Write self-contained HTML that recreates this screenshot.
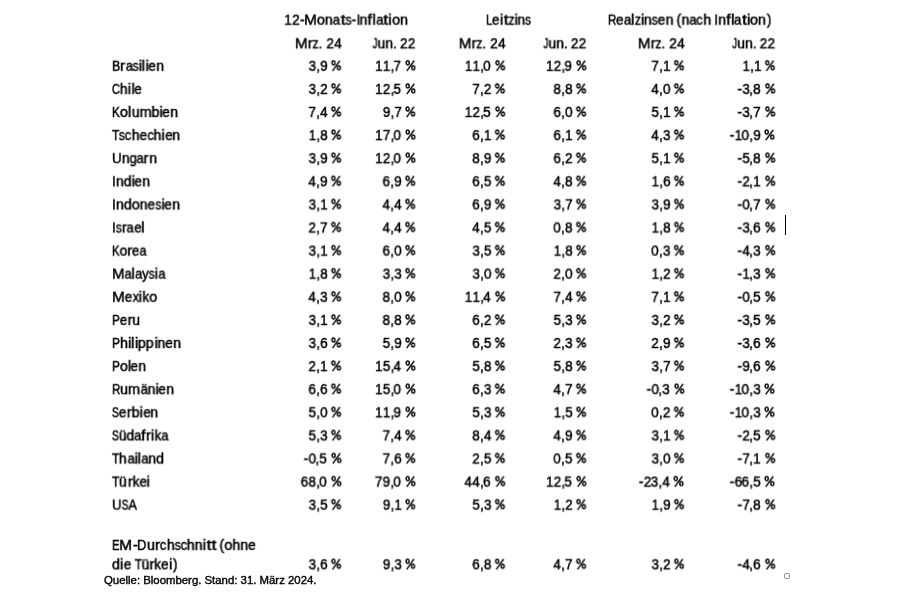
<!DOCTYPE html>
<html><head><meta charset="utf-8"><style>
html,body{margin:0;padding:0;background:#fff}
body{width:900px;height:604px;position:relative;overflow:hidden}
.t{will-change:transform;transform-origin:0 0;position:absolute;font-family:"Liberation Sans",sans-serif;line-height:20px;color:#000;white-space:nowrap}
.n{font-size:14.2px;-webkit-text-stroke:0.45px #000}
.w{font-size:14.2px;-webkit-text-stroke:0.45px #000}
.t s{text-decoration:none;display:inline-block;transform-origin:0 0}
.g0{transform:scaleX(0.9819);margin-right:-0.143px}
.g1{transform:scaleX(0.9819);margin-right:-0.143px}
.g2{transform:scaleX(0.9906);margin-right:-0.045px}
.g3{transform:scaleX(1.1059);margin-right:1.252px}
.g4{transform:scaleX(1.0217);margin-right:0.171px}
.g5{transform:scaleX(1.0179);margin-right:0.141px}
.g6{transform:scaleX(0.9280);margin-right:-0.569px}
.g7{transform:scaleX(1.2990);margin-right:1.180px}
.g8{transform:scaleX(0.8428);margin-right:-1.116px}
.g9{transform:scaleX(0.9771);margin-right:-0.090px}
.g10{transform:scaleX(1.1835);margin-right:0.724px}
.g11{transform:scaleX(1.1130);margin-right:0.356px}
.g12{transform:scaleX(1.1130);margin-right:0.356px}
.g13{transform:scaleX(0.8145);margin-right:-1.465px}
.g14{transform:scaleX(0.9639);margin-right:-0.285px}
.g15{transform:scaleX(0.8512);margin-right:-1.056px}
.g16{transform:scaleX(0.8101);margin-right:-1.947px}
.g17{transform:scaleX(0.8767);margin-right:-0.486px}
.g18{transform:scaleX(0.9811);margin-right:-0.089px}
.g19{transform:scaleX(0.9112);margin-right:-0.630px}
.g20{transform:scaleX(1.0179);margin-right:0.141px}
.g21{transform:scaleX(0.9811);margin-right:-0.089px}
.g22{transform:scaleX(1.1280);margin-right:0.605px}
.g23{transform:scaleX(0.9790);margin-right:-0.083px}
.g24{transform:scaleX(0.9819);margin-right:-0.143px}
.g25{transform:scaleX(0.6871);margin-right:-2.222px}
.g26{transform:scaleX(1.0179);margin-right:0.141px}
.g27{transform:scaleX(0.8787);margin-right:-1.149px}
.g28{transform:scaleX(0.9819);margin-right:-0.143px}
.g29{transform:scaleX(0.9676);margin-right:-0.128px}
.g30{transform:scaleX(0.9819);margin-right:-0.143px}
.g31{transform:scaleX(0.8662);margin-right:-1.689px}
.g32{transform:scaleX(0.9819);margin-right:-0.143px}
.g33{transform:scaleX(0.9819);margin-right:-0.143px}
.g34{transform:scaleX(0.7955);margin-right:-2.097px}
.g35{transform:scaleX(0.9819);margin-right:-0.143px}
.g36{transform:scaleX(0.9819);margin-right:-0.143px}
.g37{transform:scaleX(0.8393);margin-right:-1.522px}
.g38{transform:scaleX(1.0333);margin-right:0.393px}
.g39{transform:scaleX(1.0179);margin-right:0.141px}
.g40{transform:scaleX(0.9819);margin-right:-0.143px}
.g41{transform:scaleX(0.8596);margin-right:-1.218px}
.g42{transform:scaleX(0.9573);margin-right:-0.438px}
.g43{transform:scaleX(0.9119);margin-right:-0.696px}
.g44{transform:scaleX(1.0179);margin-right:0.141px}
.g45{transform:scaleX(0.9754);margin-right:-0.175px}
.g46{transform:scaleX(0.9333);margin-right:-0.473px}
.g47{transform:scaleX(0.9796);margin-right:-0.145px}
.g48{transform:scaleX(0.8345);margin-right:-1.567px}
.g49{transform:scaleX(1.0179);margin-right:0.141px}
.g50{transform:scaleX(0.9280);margin-right:-0.569px}
.g51{transform:scaleX(0.7422);margin-right:-2.441px}
.g52{transform:scaleX(1.0179);margin-right:0.141px}
.g53{transform:scaleX(0.9347);margin-right:-0.619px}
.g54{transform:scaleX(0.7888);margin-right:-2.001px}
.g55{transform:scaleX(0.9179);margin-right:-0.842px}
.pc{width:10.937px;position:relative;color:transparent;-webkit-text-stroke:0 transparent}
.ps{position:absolute;left:0;top:4.1px;overflow:visible}
.foot{will-change:transform;position:absolute;left:104px;top:572.95px;font-family:"Liberation Sans",sans-serif;font-size:11.38px;line-height:14px;color:#000;white-space:nowrap;-webkit-text-stroke:0.4px #000}
.cur{position:absolute;left:785px;top:215px;width:1px;height:20px;background:#000}
.sq{position:absolute;left:784px;top:573.3px;width:6px;height:6px;border:1px solid #8a8a8a;border-radius:1.5px;box-sizing:border-box}
</style></head><body>
<svg width="0" height="0" style="position:absolute"><defs><g id="P" fill="none" stroke="#000" stroke-width="1.45"><ellipse cx="2.7" cy="2.95" rx="1.57" ry="2.02"/><ellipse cx="8.38" cy="7.9" rx="1.54" ry="1.95"/><path d="M1.75 11.1L9.36 0.8"/></g></defs></svg>
<div class="t w" style="left:283px;top:9px;transform:translate(1.170px,0.677px) scaleX(0.9906)"><s class="g0">1</s><s class="g1">2</s><s class="g2">-</s><s class="g3">M</s><s class="g4">o</s><s class="g5">n</s><s class="g6">a</s><s class="g7">t</s><s class="g8">s</s><s class="g2">-</s><s class="g9">I</s><s class="g5">n</s><s class="g10">f</s><s class="g11">l</s><s class="g6">a</s><s class="g7">t</s><s class="g12">i</s><s class="g4">o</s><s class="g5">n</s></div>
<div class="t w" style="left:486px;top:9px;transform:translate(0.105px,0.677px) scaleX(0.9763)"><s class="g13">L</s><s class="g14">e</s><s class="g12">i</s><s class="g7">t</s><s class="g15">z</s><s class="g12">i</s><s class="g5">n</s><s class="g8">s</s></div>
<div class="t w" style="left:607px;top:9px;transform:translate(1.062px,0.677px) scaleX(0.9919)"><s class="g16">R</s><s class="g14">e</s><s class="g6">a</s><s class="g11">l</s><s class="g15">z</s><s class="g12">i</s><s class="g5">n</s><s class="g8">s</s><s class="g14">e</s><s class="g5">n</s><s class="g17">&nbsp;</s><s class="g18">(</s><s class="g5">n</s><s class="g6">a</s><s class="g19">c</s><s class="g20">h</s><s class="g17">&nbsp;</s><s class="g9">I</s><s class="g5">n</s><s class="g10">f</s><s class="g11">l</s><s class="g6">a</s><s class="g7">t</s><s class="g12">i</s><s class="g4">o</s><s class="g5">n</s><s class="g21">)</s></div>
<div class="t w" style="left:294px;top:33px;transform:translate(0.840px,0.277px) scaleX(0.9845)"><s class="g3">M</s><s class="g22">r</s><s class="g15">z</s><s class="g23">.</s><s class="g17">&nbsp;</s><s class="g1">2</s><s class="g24">4</s></div>
<div class="t w" style="left:372px;top:33px;transform:translate(0.569px,0.277px) scaleX(0.9779)"><s class="g25">J</s><s class="g26">u</s><s class="g5">n</s><s class="g23">.</s><s class="g17">&nbsp;</s><s class="g1">2</s><s class="g1">2</s></div>
<div class="t w" style="left:458px;top:33px;transform:translate(0.640px,0.277px) scaleX(0.9845)"><s class="g3">M</s><s class="g22">r</s><s class="g15">z</s><s class="g23">.</s><s class="g17">&nbsp;</s><s class="g1">2</s><s class="g24">4</s></div>
<div class="t w" style="left:543px;top:33px;transform:translate(0.469px,0.277px) scaleX(0.9779)"><s class="g25">J</s><s class="g26">u</s><s class="g5">n</s><s class="g23">.</s><s class="g17">&nbsp;</s><s class="g1">2</s><s class="g1">2</s></div>
<div class="t w" style="left:637px;top:33px;transform:translate(0.740px,0.277px) scaleX(0.9845)"><s class="g3">M</s><s class="g22">r</s><s class="g15">z</s><s class="g23">.</s><s class="g17">&nbsp;</s><s class="g1">2</s><s class="g24">4</s></div>
<div class="t w" style="left:732px;top:33px;transform:translate(0.269px,0.277px) scaleX(0.9779)"><s class="g25">J</s><s class="g26">u</s><s class="g5">n</s><s class="g23">.</s><s class="g17">&nbsp;</s><s class="g1">2</s><s class="g1">2</s></div>
<div class="t w" style="left:112px;top:55px;transform:translate(0.071px,0.777px) scaleX(0.9815)"><s class="g27">B</s><s class="g22">r</s><s class="g6">a</s><s class="g8">s</s><s class="g12">i</s><s class="g11">l</s><s class="g12">i</s><s class="g14">e</s><s class="g5">n</s></div>
<div class="t n" style="left:308px;top:55px;transform:translate(0.625px,0.777px) scaleX(0.9640)"><s class="g28">3</s><s class="g29">,</s><s class="g30">9</s><s class="g17">&nbsp;</s><s class="pc">%<svg class="ps" width="12" height="12" viewBox="0 0 12 12"><use href="#P"/></svg></s></div>
<div class="t n" style="left:374px;top:55px;transform:translate(1.066px,0.777px) scaleX(0.9684)"><s class="g0">1</s><s class="g0">1</s><s class="g29">,</s><s class="g32">7</s><s class="g17">&nbsp;</s><s class="pc">%<svg class="ps" width="12" height="12" viewBox="0 0 12 12"><use href="#P"/></svg></s></div>
<div class="t n" style="left:464px;top:55px;transform:translate(0.766px,0.777px) scaleX(0.9684)"><s class="g0">1</s><s class="g0">1</s><s class="g29">,</s><s class="g33">0</s><s class="g17">&nbsp;</s><s class="pc">%<svg class="ps" width="12" height="12" viewBox="0 0 12 12"><use href="#P"/></svg></s></div>
<div class="t n" style="left:545px;top:55px;transform:translate(0.966px,0.777px) scaleX(0.9684)"><s class="g0">1</s><s class="g1">2</s><s class="g29">,</s><s class="g30">9</s><s class="g17">&nbsp;</s><s class="pc">%<svg class="ps" width="12" height="12" viewBox="0 0 12 12"><use href="#P"/></svg></s></div>
<div class="t n" style="left:651px;top:55px;transform:translate(0.367px,0.777px) scaleX(0.9687)"><s class="g32">7</s><s class="g29">,</s><s class="g0">1</s><s class="g17">&nbsp;</s><s class="pc">%<svg class="ps" width="12" height="12" viewBox="0 0 12 12"><use href="#P"/></svg></s></div>
<div class="t n" style="left:742px;top:55px;transform:translate(0.529px,0.777px) scaleX(0.9608)"><s class="g0">1</s><s class="g29">,</s><s class="g0">1</s><s class="g17">&nbsp;</s><s class="pc">%<svg class="ps" width="12" height="12" viewBox="0 0 12 12"><use href="#P"/></svg></s></div>
<div class="t w" style="left:112px;top:78px;transform:translate(-0.058px,0.877px) scaleX(0.9740)"><s class="g34">C</s><s class="g20">h</s><s class="g12">i</s><s class="g11">l</s><s class="g14">e</s></div>
<div class="t n" style="left:308px;top:78px;transform:translate(0.625px,0.877px) scaleX(0.9640)"><s class="g28">3</s><s class="g29">,</s><s class="g1">2</s><s class="g17">&nbsp;</s><s class="pc">%<svg class="ps" width="12" height="12" viewBox="0 0 12 12"><use href="#P"/></svg></s></div>
<div class="t n" style="left:374px;top:78px;transform:translate(1.066px,0.877px) scaleX(0.9684)"><s class="g0">1</s><s class="g1">2</s><s class="g29">,</s><s class="g35">5</s><s class="g17">&nbsp;</s><s class="pc">%<svg class="ps" width="12" height="12" viewBox="0 0 12 12"><use href="#P"/></svg></s></div>
<div class="t n" style="left:472px;top:78px;transform:translate(0.267px,0.877px) scaleX(0.9687)"><s class="g32">7</s><s class="g29">,</s><s class="g1">2</s><s class="g17">&nbsp;</s><s class="pc">%<svg class="ps" width="12" height="12" viewBox="0 0 12 12"><use href="#P"/></svg></s></div>
<div class="t n" style="left:553px;top:78px;transform:translate(0.453px,0.877px) scaleX(0.9691)"><s class="g36">8</s><s class="g29">,</s><s class="g36">8</s><s class="g17">&nbsp;</s><s class="pc">%<svg class="ps" width="12" height="12" viewBox="0 0 12 12"><use href="#P"/></svg></s></div>
<div class="t n" style="left:651px;top:78px;transform:translate(0.278px,0.877px) scaleX(0.9714)"><s class="g24">4</s><s class="g29">,</s><s class="g33">0</s><s class="g17">&nbsp;</s><s class="pc">%<svg class="ps" width="12" height="12" viewBox="0 0 12 12"><use href="#P"/></svg></s></div>
<div class="t n" style="left:737px;top:78px;transform:translate(0.494px,0.877px) scaleX(0.9749)"><s class="g2">-</s><s class="g28">3</s><s class="g29">,</s><s class="g36">8</s><s class="g17">&nbsp;</s><s class="pc">%<svg class="ps" width="12" height="12" viewBox="0 0 12 12"><use href="#P"/></svg></s></div>
<div class="t w" style="left:112px;top:101px;transform:translate(-0.039px,0.977px) scaleX(0.9870)"><s class="g37">K</s><s class="g4">o</s><s class="g11">l</s><s class="g26">u</s><s class="g38">m</s><s class="g39">b</s><s class="g12">i</s><s class="g14">e</s><s class="g5">n</s></div>
<div class="t n" style="left:308px;top:101px;transform:translate(0.467px,0.977px) scaleX(0.9687)"><s class="g32">7</s><s class="g29">,</s><s class="g24">4</s><s class="g17">&nbsp;</s><s class="pc">%<svg class="ps" width="12" height="12" viewBox="0 0 12 12"><use href="#P"/></svg></s></div>
<div class="t n" style="left:382px;top:101px;transform:translate(0.879px,0.977px) scaleX(0.9593)"><s class="g30">9</s><s class="g29">,</s><s class="g32">7</s><s class="g17">&nbsp;</s><s class="pc">%<svg class="ps" width="12" height="12" viewBox="0 0 12 12"><use href="#P"/></svg></s></div>
<div class="t n" style="left:464px;top:101px;transform:translate(0.766px,0.977px) scaleX(0.9684)"><s class="g0">1</s><s class="g1">2</s><s class="g29">,</s><s class="g35">5</s><s class="g17">&nbsp;</s><s class="pc">%<svg class="ps" width="12" height="12" viewBox="0 0 12 12"><use href="#P"/></svg></s></div>
<div class="t n" style="left:553px;top:101px;transform:translate(0.428px,0.977px) scaleX(0.9699)"><s class="g40">6</s><s class="g29">,</s><s class="g33">0</s><s class="g17">&nbsp;</s><s class="pc">%<svg class="ps" width="12" height="12" viewBox="0 0 12 12"><use href="#P"/></svg></s></div>
<div class="t n" style="left:651px;top:101px;transform:translate(0.483px,0.977px) scaleX(0.9652)"><s class="g35">5</s><s class="g29">,</s><s class="g0">1</s><s class="g17">&nbsp;</s><s class="pc">%<svg class="ps" width="12" height="12" viewBox="0 0 12 12"><use href="#P"/></svg></s></div>
<div class="t n" style="left:737px;top:101px;transform:translate(0.494px,0.977px) scaleX(0.9749)"><s class="g2">-</s><s class="g28">3</s><s class="g29">,</s><s class="g32">7</s><s class="g17">&nbsp;</s><s class="pc">%<svg class="ps" width="12" height="12" viewBox="0 0 12 12"><use href="#P"/></svg></s></div>
<div class="t w" style="left:112px;top:125px;transform:translate(-0.092px,0.077px) scaleX(0.9882)"><s class="g41">T</s><s class="g8">s</s><s class="g19">c</s><s class="g20">h</s><s class="g14">e</s><s class="g19">c</s><s class="g20">h</s><s class="g12">i</s><s class="g14">e</s><s class="g5">n</s></div>
<div class="t n" style="left:308px;top:125px;transform:translate(0.729px,0.077px) scaleX(0.9608)"><s class="g0">1</s><s class="g29">,</s><s class="g36">8</s><s class="g17">&nbsp;</s><s class="pc">%<svg class="ps" width="12" height="12" viewBox="0 0 12 12"><use href="#P"/></svg></s></div>
<div class="t n" style="left:374px;top:125px;transform:translate(1.066px,0.077px) scaleX(0.9684)"><s class="g0">1</s><s class="g32">7</s><s class="g29">,</s><s class="g33">0</s><s class="g17">&nbsp;</s><s class="pc">%<svg class="ps" width="12" height="12" viewBox="0 0 12 12"><use href="#P"/></svg></s></div>
<div class="t n" style="left:472px;top:125px;transform:translate(0.228px,0.077px) scaleX(0.9699)"><s class="g40">6</s><s class="g29">,</s><s class="g0">1</s><s class="g17">&nbsp;</s><s class="pc">%<svg class="ps" width="12" height="12" viewBox="0 0 12 12"><use href="#P"/></svg></s></div>
<div class="t n" style="left:553px;top:125px;transform:translate(0.428px,0.077px) scaleX(0.9699)"><s class="g40">6</s><s class="g29">,</s><s class="g0">1</s><s class="g17">&nbsp;</s><s class="pc">%<svg class="ps" width="12" height="12" viewBox="0 0 12 12"><use href="#P"/></svg></s></div>
<div class="t n" style="left:651px;top:125px;transform:translate(0.278px,0.077px) scaleX(0.9714)"><s class="g24">4</s><s class="g29">,</s><s class="g28">3</s><s class="g17">&nbsp;</s><s class="pc">%<svg class="ps" width="12" height="12" viewBox="0 0 12 12"><use href="#P"/></svg></s></div>
<div class="t n" style="left:729px;top:125px;transform:translate(0.737px,0.077px) scaleX(0.9792)"><s class="g2">-</s><s class="g0">1</s><s class="g33">0</s><s class="g29">,</s><s class="g30">9</s><s class="g17">&nbsp;</s><s class="pc">%<svg class="ps" width="12" height="12" viewBox="0 0 12 12"><use href="#P"/></svg></s></div>
<div class="t w" style="left:112px;top:148px;transform:translate(0.019px,0.177px) scaleX(0.9796)"><s class="g42">U</s><s class="g5">n</s><s class="g43">g</s><s class="g6">a</s><s class="g22">r</s><s class="g5">n</s></div>
<div class="t n" style="left:308px;top:148px;transform:translate(0.625px,0.177px) scaleX(0.9640)"><s class="g28">3</s><s class="g29">,</s><s class="g30">9</s><s class="g17">&nbsp;</s><s class="pc">%<svg class="ps" width="12" height="12" viewBox="0 0 12 12"><use href="#P"/></svg></s></div>
<div class="t n" style="left:374px;top:148px;transform:translate(1.066px,0.177px) scaleX(0.9684)"><s class="g0">1</s><s class="g1">2</s><s class="g29">,</s><s class="g33">0</s><s class="g17">&nbsp;</s><s class="pc">%<svg class="ps" width="12" height="12" viewBox="0 0 12 12"><use href="#P"/></svg></s></div>
<div class="t n" style="left:472px;top:148px;transform:translate(0.253px,0.177px) scaleX(0.9691)"><s class="g36">8</s><s class="g29">,</s><s class="g30">9</s><s class="g17">&nbsp;</s><s class="pc">%<svg class="ps" width="12" height="12" viewBox="0 0 12 12"><use href="#P"/></svg></s></div>
<div class="t n" style="left:553px;top:148px;transform:translate(0.428px,0.177px) scaleX(0.9699)"><s class="g40">6</s><s class="g29">,</s><s class="g1">2</s><s class="g17">&nbsp;</s><s class="pc">%<svg class="ps" width="12" height="12" viewBox="0 0 12 12"><use href="#P"/></svg></s></div>
<div class="t n" style="left:651px;top:148px;transform:translate(0.483px,0.177px) scaleX(0.9652)"><s class="g35">5</s><s class="g29">,</s><s class="g0">1</s><s class="g17">&nbsp;</s><s class="pc">%<svg class="ps" width="12" height="12" viewBox="0 0 12 12"><use href="#P"/></svg></s></div>
<div class="t n" style="left:737px;top:148px;transform:translate(0.494px,0.177px) scaleX(0.9749)"><s class="g2">-</s><s class="g35">5</s><s class="g29">,</s><s class="g36">8</s><s class="g17">&nbsp;</s><s class="pc">%<svg class="ps" width="12" height="12" viewBox="0 0 12 12"><use href="#P"/></svg></s></div>
<div class="t w" style="left:112px;top:171px;transform:translate(-0.003px,0.277px) scaleX(0.9766)"><s class="g9">I</s><s class="g5">n</s><s class="g44">d</s><s class="g12">i</s><s class="g14">e</s><s class="g5">n</s></div>
<div class="t n" style="left:308px;top:171px;transform:translate(0.378px,0.277px) scaleX(0.9714)"><s class="g24">4</s><s class="g29">,</s><s class="g30">9</s><s class="g17">&nbsp;</s><s class="pc">%<svg class="ps" width="12" height="12" viewBox="0 0 12 12"><use href="#P"/></svg></s></div>
<div class="t n" style="left:382px;top:171px;transform:translate(0.528px,0.277px) scaleX(0.9699)"><s class="g40">6</s><s class="g29">,</s><s class="g30">9</s><s class="g17">&nbsp;</s><s class="pc">%<svg class="ps" width="12" height="12" viewBox="0 0 12 12"><use href="#P"/></svg></s></div>
<div class="t n" style="left:472px;top:171px;transform:translate(0.228px,0.277px) scaleX(0.9699)"><s class="g40">6</s><s class="g29">,</s><s class="g35">5</s><s class="g17">&nbsp;</s><s class="pc">%<svg class="ps" width="12" height="12" viewBox="0 0 12 12"><use href="#P"/></svg></s></div>
<div class="t n" style="left:553px;top:171px;transform:translate(0.378px,0.277px) scaleX(0.9714)"><s class="g24">4</s><s class="g29">,</s><s class="g36">8</s><s class="g17">&nbsp;</s><s class="pc">%<svg class="ps" width="12" height="12" viewBox="0 0 12 12"><use href="#P"/></svg></s></div>
<div class="t n" style="left:651px;top:171px;transform:translate(0.629px,0.277px) scaleX(0.9608)"><s class="g0">1</s><s class="g29">,</s><s class="g40">6</s><s class="g17">&nbsp;</s><s class="pc">%<svg class="ps" width="12" height="12" viewBox="0 0 12 12"><use href="#P"/></svg></s></div>
<div class="t n" style="left:737px;top:171px;transform:translate(0.494px,0.277px) scaleX(0.9749)"><s class="g2">-</s><s class="g1">2</s><s class="g29">,</s><s class="g0">1</s><s class="g17">&nbsp;</s><s class="pc">%<svg class="ps" width="12" height="12" viewBox="0 0 12 12"><use href="#P"/></svg></s></div>
<div class="t w" style="left:112px;top:194px;transform:translate(-0.016px,0.377px) scaleX(0.9870)"><s class="g9">I</s><s class="g5">n</s><s class="g44">d</s><s class="g4">o</s><s class="g5">n</s><s class="g14">e</s><s class="g8">s</s><s class="g12">i</s><s class="g14">e</s><s class="g5">n</s></div>
<div class="t n" style="left:308px;top:194px;transform:translate(0.625px,0.377px) scaleX(0.9640)"><s class="g28">3</s><s class="g29">,</s><s class="g0">1</s><s class="g17">&nbsp;</s><s class="pc">%<svg class="ps" width="12" height="12" viewBox="0 0 12 12"><use href="#P"/></svg></s></div>
<div class="t n" style="left:382px;top:194px;transform:translate(0.478px,0.377px) scaleX(0.9714)"><s class="g24">4</s><s class="g29">,</s><s class="g24">4</s><s class="g17">&nbsp;</s><s class="pc">%<svg class="ps" width="12" height="12" viewBox="0 0 12 12"><use href="#P"/></svg></s></div>
<div class="t n" style="left:472px;top:194px;transform:translate(0.228px,0.377px) scaleX(0.9699)"><s class="g40">6</s><s class="g29">,</s><s class="g30">9</s><s class="g17">&nbsp;</s><s class="pc">%<svg class="ps" width="12" height="12" viewBox="0 0 12 12"><use href="#P"/></svg></s></div>
<div class="t n" style="left:553px;top:194px;transform:translate(0.625px,0.377px) scaleX(0.9640)"><s class="g28">3</s><s class="g29">,</s><s class="g32">7</s><s class="g17">&nbsp;</s><s class="pc">%<svg class="ps" width="12" height="12" viewBox="0 0 12 12"><use href="#P"/></svg></s></div>
<div class="t n" style="left:651px;top:194px;transform:translate(0.525px,0.377px) scaleX(0.9640)"><s class="g28">3</s><s class="g29">,</s><s class="g30">9</s><s class="g17">&nbsp;</s><s class="pc">%<svg class="ps" width="12" height="12" viewBox="0 0 12 12"><use href="#P"/></svg></s></div>
<div class="t n" style="left:737px;top:194px;transform:translate(0.494px,0.377px) scaleX(0.9749)"><s class="g2">-</s><s class="g33">0</s><s class="g29">,</s><s class="g32">7</s><s class="g17">&nbsp;</s><s class="pc">%<svg class="ps" width="12" height="12" viewBox="0 0 12 12"><use href="#P"/></svg></s></div>
<div class="t w" style="left:112px;top:217px;transform:translate(0.004px,0.477px) scaleX(0.9710)"><s class="g9">I</s><s class="g8">s</s><s class="g22">r</s><s class="g6">a</s><s class="g14">e</s><s class="g11">l</s></div>
<div class="t n" style="left:308px;top:217px;transform:translate(0.435px,0.477px) scaleX(0.9697)"><s class="g1">2</s><s class="g29">,</s><s class="g32">7</s><s class="g17">&nbsp;</s><s class="pc">%<svg class="ps" width="12" height="12" viewBox="0 0 12 12"><use href="#P"/></svg></s></div>
<div class="t n" style="left:382px;top:217px;transform:translate(0.478px,0.477px) scaleX(0.9714)"><s class="g24">4</s><s class="g29">,</s><s class="g24">4</s><s class="g17">&nbsp;</s><s class="pc">%<svg class="ps" width="12" height="12" viewBox="0 0 12 12"><use href="#P"/></svg></s></div>
<div class="t n" style="left:472px;top:217px;transform:translate(0.178px,0.477px) scaleX(0.9714)"><s class="g24">4</s><s class="g29">,</s><s class="g35">5</s><s class="g17">&nbsp;</s><s class="pc">%<svg class="ps" width="12" height="12" viewBox="0 0 12 12"><use href="#P"/></svg></s></div>
<div class="t n" style="left:553px;top:217px;transform:translate(0.293px,0.477px) scaleX(0.9740)"><s class="g33">0</s><s class="g29">,</s><s class="g36">8</s><s class="g17">&nbsp;</s><s class="pc">%<svg class="ps" width="12" height="12" viewBox="0 0 12 12"><use href="#P"/></svg></s></div>
<div class="t n" style="left:651px;top:217px;transform:translate(0.629px,0.477px) scaleX(0.9608)"><s class="g0">1</s><s class="g29">,</s><s class="g36">8</s><s class="g17">&nbsp;</s><s class="pc">%<svg class="ps" width="12" height="12" viewBox="0 0 12 12"><use href="#P"/></svg></s></div>
<div class="t n" style="left:737px;top:217px;transform:translate(0.494px,0.477px) scaleX(0.9749)"><s class="g2">-</s><s class="g28">3</s><s class="g29">,</s><s class="g40">6</s><s class="g17">&nbsp;</s><s class="pc">%<svg class="ps" width="12" height="12" viewBox="0 0 12 12"><use href="#P"/></svg></s></div>
<div class="t w" style="left:112px;top:240px;transform:translate(-0.002px,0.577px) scaleX(0.9493)"><s class="g37">K</s><s class="g4">o</s><s class="g22">r</s><s class="g14">e</s><s class="g6">a</s></div>
<div class="t n" style="left:308px;top:240px;transform:translate(0.625px,0.577px) scaleX(0.9640)"><s class="g28">3</s><s class="g29">,</s><s class="g0">1</s><s class="g17">&nbsp;</s><s class="pc">%<svg class="ps" width="12" height="12" viewBox="0 0 12 12"><use href="#P"/></svg></s></div>
<div class="t n" style="left:382px;top:240px;transform:translate(0.528px,0.577px) scaleX(0.9699)"><s class="g40">6</s><s class="g29">,</s><s class="g33">0</s><s class="g17">&nbsp;</s><s class="pc">%<svg class="ps" width="12" height="12" viewBox="0 0 12 12"><use href="#P"/></svg></s></div>
<div class="t n" style="left:472px;top:240px;transform:translate(0.425px,0.577px) scaleX(0.9640)"><s class="g28">3</s><s class="g29">,</s><s class="g35">5</s><s class="g17">&nbsp;</s><s class="pc">%<svg class="ps" width="12" height="12" viewBox="0 0 12 12"><use href="#P"/></svg></s></div>
<div class="t n" style="left:553px;top:240px;transform:translate(0.729px,0.577px) scaleX(0.9608)"><s class="g0">1</s><s class="g29">,</s><s class="g36">8</s><s class="g17">&nbsp;</s><s class="pc">%<svg class="ps" width="12" height="12" viewBox="0 0 12 12"><use href="#P"/></svg></s></div>
<div class="t n" style="left:651px;top:240px;transform:translate(0.193px,0.577px) scaleX(0.9740)"><s class="g33">0</s><s class="g29">,</s><s class="g28">3</s><s class="g17">&nbsp;</s><s class="pc">%<svg class="ps" width="12" height="12" viewBox="0 0 12 12"><use href="#P"/></svg></s></div>
<div class="t n" style="left:737px;top:240px;transform:translate(0.494px,0.577px) scaleX(0.9749)"><s class="g2">-</s><s class="g24">4</s><s class="g29">,</s><s class="g28">3</s><s class="g17">&nbsp;</s><s class="pc">%<svg class="ps" width="12" height="12" viewBox="0 0 12 12"><use href="#P"/></svg></s></div>
<div class="t w" style="left:112px;top:263px;transform:translate(0.003px,0.677px) scaleX(0.9665)"><s class="g3">M</s><s class="g6">a</s><s class="g11">l</s><s class="g6">a</s><s class="g45">y</s><s class="g8">s</s><s class="g12">i</s><s class="g6">a</s></div>
<div class="t n" style="left:308px;top:263px;transform:translate(0.729px,0.677px) scaleX(0.9608)"><s class="g0">1</s><s class="g29">,</s><s class="g36">8</s><s class="g17">&nbsp;</s><s class="pc">%<svg class="ps" width="12" height="12" viewBox="0 0 12 12"><use href="#P"/></svg></s></div>
<div class="t n" style="left:382px;top:263px;transform:translate(0.725px,0.677px) scaleX(0.9640)"><s class="g28">3</s><s class="g29">,</s><s class="g28">3</s><s class="g17">&nbsp;</s><s class="pc">%<svg class="ps" width="12" height="12" viewBox="0 0 12 12"><use href="#P"/></svg></s></div>
<div class="t n" style="left:472px;top:263px;transform:translate(0.425px,0.677px) scaleX(0.9640)"><s class="g28">3</s><s class="g29">,</s><s class="g33">0</s><s class="g17">&nbsp;</s><s class="pc">%<svg class="ps" width="12" height="12" viewBox="0 0 12 12"><use href="#P"/></svg></s></div>
<div class="t n" style="left:553px;top:263px;transform:translate(0.435px,0.677px) scaleX(0.9697)"><s class="g1">2</s><s class="g29">,</s><s class="g33">0</s><s class="g17">&nbsp;</s><s class="pc">%<svg class="ps" width="12" height="12" viewBox="0 0 12 12"><use href="#P"/></svg></s></div>
<div class="t n" style="left:651px;top:263px;transform:translate(0.629px,0.677px) scaleX(0.9608)"><s class="g0">1</s><s class="g29">,</s><s class="g1">2</s><s class="g17">&nbsp;</s><s class="pc">%<svg class="ps" width="12" height="12" viewBox="0 0 12 12"><use href="#P"/></svg></s></div>
<div class="t n" style="left:737px;top:263px;transform:translate(0.494px,0.677px) scaleX(0.9749)"><s class="g2">-</s><s class="g0">1</s><s class="g29">,</s><s class="g28">3</s><s class="g17">&nbsp;</s><s class="pc">%<svg class="ps" width="12" height="12" viewBox="0 0 12 12"><use href="#P"/></svg></s></div>
<div class="t w" style="left:112px;top:286px;transform:translate(-0.017px,0.777px) scaleX(0.9816)"><s class="g3">M</s><s class="g14">e</s><s class="g46">x</s><s class="g12">i</s><s class="g47">k</s><s class="g4">o</s></div>
<div class="t n" style="left:308px;top:286px;transform:translate(0.378px,0.777px) scaleX(0.9714)"><s class="g24">4</s><s class="g29">,</s><s class="g28">3</s><s class="g17">&nbsp;</s><s class="pc">%<svg class="ps" width="12" height="12" viewBox="0 0 12 12"><use href="#P"/></svg></s></div>
<div class="t n" style="left:382px;top:286px;transform:translate(0.553px,0.777px) scaleX(0.9691)"><s class="g36">8</s><s class="g29">,</s><s class="g33">0</s><s class="g17">&nbsp;</s><s class="pc">%<svg class="ps" width="12" height="12" viewBox="0 0 12 12"><use href="#P"/></svg></s></div>
<div class="t n" style="left:464px;top:286px;transform:translate(0.766px,0.777px) scaleX(0.9684)"><s class="g0">1</s><s class="g0">1</s><s class="g29">,</s><s class="g24">4</s><s class="g17">&nbsp;</s><s class="pc">%<svg class="ps" width="12" height="12" viewBox="0 0 12 12"><use href="#P"/></svg></s></div>
<div class="t n" style="left:553px;top:286px;transform:translate(0.467px,0.777px) scaleX(0.9687)"><s class="g32">7</s><s class="g29">,</s><s class="g24">4</s><s class="g17">&nbsp;</s><s class="pc">%<svg class="ps" width="12" height="12" viewBox="0 0 12 12"><use href="#P"/></svg></s></div>
<div class="t n" style="left:651px;top:286px;transform:translate(0.367px,0.777px) scaleX(0.9687)"><s class="g32">7</s><s class="g29">,</s><s class="g0">1</s><s class="g17">&nbsp;</s><s class="pc">%<svg class="ps" width="12" height="12" viewBox="0 0 12 12"><use href="#P"/></svg></s></div>
<div class="t n" style="left:737px;top:286px;transform:translate(0.494px,0.777px) scaleX(0.9749)"><s class="g2">-</s><s class="g33">0</s><s class="g29">,</s><s class="g35">5</s><s class="g17">&nbsp;</s><s class="pc">%<svg class="ps" width="12" height="12" viewBox="0 0 12 12"><use href="#P"/></svg></s></div>
<div class="t w" style="left:112px;top:309px;transform:translate(0.166px,0.877px) scaleX(0.9587)"><s class="g48">P</s><s class="g14">e</s><s class="g22">r</s><s class="g26">u</s></div>
<div class="t n" style="left:308px;top:309px;transform:translate(0.625px,0.877px) scaleX(0.9640)"><s class="g28">3</s><s class="g29">,</s><s class="g0">1</s><s class="g17">&nbsp;</s><s class="pc">%<svg class="ps" width="12" height="12" viewBox="0 0 12 12"><use href="#P"/></svg></s></div>
<div class="t n" style="left:382px;top:309px;transform:translate(0.553px,0.877px) scaleX(0.9691)"><s class="g36">8</s><s class="g29">,</s><s class="g36">8</s><s class="g17">&nbsp;</s><s class="pc">%<svg class="ps" width="12" height="12" viewBox="0 0 12 12"><use href="#P"/></svg></s></div>
<div class="t n" style="left:472px;top:309px;transform:translate(0.228px,0.877px) scaleX(0.9699)"><s class="g40">6</s><s class="g29">,</s><s class="g1">2</s><s class="g17">&nbsp;</s><s class="pc">%<svg class="ps" width="12" height="12" viewBox="0 0 12 12"><use href="#P"/></svg></s></div>
<div class="t n" style="left:553px;top:309px;transform:translate(0.583px,0.877px) scaleX(0.9652)"><s class="g35">5</s><s class="g29">,</s><s class="g28">3</s><s class="g17">&nbsp;</s><s class="pc">%<svg class="ps" width="12" height="12" viewBox="0 0 12 12"><use href="#P"/></svg></s></div>
<div class="t n" style="left:651px;top:309px;transform:translate(0.525px,0.877px) scaleX(0.9640)"><s class="g28">3</s><s class="g29">,</s><s class="g1">2</s><s class="g17">&nbsp;</s><s class="pc">%<svg class="ps" width="12" height="12" viewBox="0 0 12 12"><use href="#P"/></svg></s></div>
<div class="t n" style="left:737px;top:309px;transform:translate(0.494px,0.877px) scaleX(0.9749)"><s class="g2">-</s><s class="g28">3</s><s class="g29">,</s><s class="g35">5</s><s class="g17">&nbsp;</s><s class="pc">%<svg class="ps" width="12" height="12" viewBox="0 0 12 12"><use href="#P"/></svg></s></div>
<div class="t w" style="left:112px;top:332px;transform:translate(0.141px,0.977px) scaleX(0.9849)"><s class="g48">P</s><s class="g20">h</s><s class="g12">i</s><s class="g11">l</s><s class="g12">i</s><s class="g49">p</s><s class="g49">p</s><s class="g12">i</s><s class="g5">n</s><s class="g14">e</s><s class="g5">n</s></div>
<div class="t n" style="left:308px;top:332px;transform:translate(0.625px,0.977px) scaleX(0.9640)"><s class="g28">3</s><s class="g29">,</s><s class="g40">6</s><s class="g17">&nbsp;</s><s class="pc">%<svg class="ps" width="12" height="12" viewBox="0 0 12 12"><use href="#P"/></svg></s></div>
<div class="t n" style="left:382px;top:332px;transform:translate(0.683px,0.977px) scaleX(0.9652)"><s class="g35">5</s><s class="g29">,</s><s class="g30">9</s><s class="g17">&nbsp;</s><s class="pc">%<svg class="ps" width="12" height="12" viewBox="0 0 12 12"><use href="#P"/></svg></s></div>
<div class="t n" style="left:472px;top:332px;transform:translate(0.228px,0.977px) scaleX(0.9699)"><s class="g40">6</s><s class="g29">,</s><s class="g35">5</s><s class="g17">&nbsp;</s><s class="pc">%<svg class="ps" width="12" height="12" viewBox="0 0 12 12"><use href="#P"/></svg></s></div>
<div class="t n" style="left:553px;top:332px;transform:translate(0.435px,0.977px) scaleX(0.9697)"><s class="g1">2</s><s class="g29">,</s><s class="g28">3</s><s class="g17">&nbsp;</s><s class="pc">%<svg class="ps" width="12" height="12" viewBox="0 0 12 12"><use href="#P"/></svg></s></div>
<div class="t n" style="left:651px;top:332px;transform:translate(0.335px,0.977px) scaleX(0.9697)"><s class="g1">2</s><s class="g29">,</s><s class="g30">9</s><s class="g17">&nbsp;</s><s class="pc">%<svg class="ps" width="12" height="12" viewBox="0 0 12 12"><use href="#P"/></svg></s></div>
<div class="t n" style="left:737px;top:332px;transform:translate(0.494px,0.977px) scaleX(0.9749)"><s class="g2">-</s><s class="g28">3</s><s class="g29">,</s><s class="g40">6</s><s class="g17">&nbsp;</s><s class="pc">%<svg class="ps" width="12" height="12" viewBox="0 0 12 12"><use href="#P"/></svg></s></div>
<div class="t w" style="left:112px;top:356px;transform:translate(0.156px,0.077px) scaleX(0.9693)"><s class="g48">P</s><s class="g4">o</s><s class="g11">l</s><s class="g14">e</s><s class="g5">n</s></div>
<div class="t n" style="left:308px;top:356px;transform:translate(0.435px,0.077px) scaleX(0.9697)"><s class="g1">2</s><s class="g29">,</s><s class="g0">1</s><s class="g17">&nbsp;</s><s class="pc">%<svg class="ps" width="12" height="12" viewBox="0 0 12 12"><use href="#P"/></svg></s></div>
<div class="t n" style="left:374px;top:356px;transform:translate(1.066px,0.077px) scaleX(0.9684)"><s class="g0">1</s><s class="g35">5</s><s class="g29">,</s><s class="g24">4</s><s class="g17">&nbsp;</s><s class="pc">%<svg class="ps" width="12" height="12" viewBox="0 0 12 12"><use href="#P"/></svg></s></div>
<div class="t n" style="left:472px;top:356px;transform:translate(0.383px,0.077px) scaleX(0.9652)"><s class="g35">5</s><s class="g29">,</s><s class="g36">8</s><s class="g17">&nbsp;</s><s class="pc">%<svg class="ps" width="12" height="12" viewBox="0 0 12 12"><use href="#P"/></svg></s></div>
<div class="t n" style="left:553px;top:356px;transform:translate(0.583px,0.077px) scaleX(0.9652)"><s class="g35">5</s><s class="g29">,</s><s class="g36">8</s><s class="g17">&nbsp;</s><s class="pc">%<svg class="ps" width="12" height="12" viewBox="0 0 12 12"><use href="#P"/></svg></s></div>
<div class="t n" style="left:651px;top:356px;transform:translate(0.525px,0.077px) scaleX(0.9640)"><s class="g28">3</s><s class="g29">,</s><s class="g32">7</s><s class="g17">&nbsp;</s><s class="pc">%<svg class="ps" width="12" height="12" viewBox="0 0 12 12"><use href="#P"/></svg></s></div>
<div class="t n" style="left:737px;top:356px;transform:translate(0.494px,0.077px) scaleX(0.9749)"><s class="g2">-</s><s class="g30">9</s><s class="g29">,</s><s class="g40">6</s><s class="g17">&nbsp;</s><s class="pc">%<svg class="ps" width="12" height="12" viewBox="0 0 12 12"><use href="#P"/></svg></s></div>
<div class="t w" style="left:112px;top:379px;transform:translate(0.171px,0.177px) scaleX(0.9829)"><s class="g16">R</s><s class="g26">u</s><s class="g38">m</s><s class="g50">ä</s><s class="g5">n</s><s class="g12">i</s><s class="g14">e</s><s class="g5">n</s></div>
<div class="t n" style="left:308px;top:379px;transform:translate(0.428px,0.177px) scaleX(0.9699)"><s class="g40">6</s><s class="g29">,</s><s class="g40">6</s><s class="g17">&nbsp;</s><s class="pc">%<svg class="ps" width="12" height="12" viewBox="0 0 12 12"><use href="#P"/></svg></s></div>
<div class="t n" style="left:374px;top:379px;transform:translate(1.066px,0.177px) scaleX(0.9684)"><s class="g0">1</s><s class="g35">5</s><s class="g29">,</s><s class="g33">0</s><s class="g17">&nbsp;</s><s class="pc">%<svg class="ps" width="12" height="12" viewBox="0 0 12 12"><use href="#P"/></svg></s></div>
<div class="t n" style="left:472px;top:379px;transform:translate(0.228px,0.177px) scaleX(0.9699)"><s class="g40">6</s><s class="g29">,</s><s class="g28">3</s><s class="g17">&nbsp;</s><s class="pc">%<svg class="ps" width="12" height="12" viewBox="0 0 12 12"><use href="#P"/></svg></s></div>
<div class="t n" style="left:553px;top:379px;transform:translate(0.378px,0.177px) scaleX(0.9714)"><s class="g24">4</s><s class="g29">,</s><s class="g32">7</s><s class="g17">&nbsp;</s><s class="pc">%<svg class="ps" width="12" height="12" viewBox="0 0 12 12"><use href="#P"/></svg></s></div>
<div class="t n" style="left:646px;top:379px;transform:translate(0.594px,0.177px) scaleX(0.9749)"><s class="g2">-</s><s class="g33">0</s><s class="g29">,</s><s class="g28">3</s><s class="g17">&nbsp;</s><s class="pc">%<svg class="ps" width="12" height="12" viewBox="0 0 12 12"><use href="#P"/></svg></s></div>
<div class="t n" style="left:729px;top:379px;transform:translate(0.737px,0.177px) scaleX(0.9792)"><s class="g2">-</s><s class="g0">1</s><s class="g33">0</s><s class="g29">,</s><s class="g28">3</s><s class="g17">&nbsp;</s><s class="pc">%<svg class="ps" width="12" height="12" viewBox="0 0 12 12"><use href="#P"/></svg></s></div>
<div class="t w" style="left:112px;top:402px;transform:translate(-0.059px,0.277px) scaleX(0.9819)"><s class="g51">S</s><s class="g14">e</s><s class="g22">r</s><s class="g39">b</s><s class="g12">i</s><s class="g14">e</s><s class="g5">n</s></div>
<div class="t n" style="left:308px;top:402px;transform:translate(0.583px,0.277px) scaleX(0.9652)"><s class="g35">5</s><s class="g29">,</s><s class="g33">0</s><s class="g17">&nbsp;</s><s class="pc">%<svg class="ps" width="12" height="12" viewBox="0 0 12 12"><use href="#P"/></svg></s></div>
<div class="t n" style="left:374px;top:402px;transform:translate(1.066px,0.277px) scaleX(0.9684)"><s class="g0">1</s><s class="g0">1</s><s class="g29">,</s><s class="g30">9</s><s class="g17">&nbsp;</s><s class="pc">%<svg class="ps" width="12" height="12" viewBox="0 0 12 12"><use href="#P"/></svg></s></div>
<div class="t n" style="left:472px;top:402px;transform:translate(0.383px,0.277px) scaleX(0.9652)"><s class="g35">5</s><s class="g29">,</s><s class="g28">3</s><s class="g17">&nbsp;</s><s class="pc">%<svg class="ps" width="12" height="12" viewBox="0 0 12 12"><use href="#P"/></svg></s></div>
<div class="t n" style="left:553px;top:402px;transform:translate(0.729px,0.277px) scaleX(0.9608)"><s class="g0">1</s><s class="g29">,</s><s class="g35">5</s><s class="g17">&nbsp;</s><s class="pc">%<svg class="ps" width="12" height="12" viewBox="0 0 12 12"><use href="#P"/></svg></s></div>
<div class="t n" style="left:651px;top:402px;transform:translate(0.193px,0.277px) scaleX(0.9740)"><s class="g33">0</s><s class="g29">,</s><s class="g1">2</s><s class="g17">&nbsp;</s><s class="pc">%<svg class="ps" width="12" height="12" viewBox="0 0 12 12"><use href="#P"/></svg></s></div>
<div class="t n" style="left:729px;top:402px;transform:translate(0.737px,0.277px) scaleX(0.9792)"><s class="g2">-</s><s class="g0">1</s><s class="g33">0</s><s class="g29">,</s><s class="g28">3</s><s class="g17">&nbsp;</s><s class="pc">%<svg class="ps" width="12" height="12" viewBox="0 0 12 12"><use href="#P"/></svg></s></div>
<div class="t w" style="left:112px;top:425px;transform:translate(-0.053px,0.377px) scaleX(0.9693)"><s class="g51">S</s><s class="g52">ü</s><s class="g44">d</s><s class="g6">a</s><s class="g10">f</s><s class="g22">r</s><s class="g12">i</s><s class="g47">k</s><s class="g6">a</s></div>
<div class="t n" style="left:308px;top:425px;transform:translate(0.583px,0.377px) scaleX(0.9652)"><s class="g35">5</s><s class="g29">,</s><s class="g28">3</s><s class="g17">&nbsp;</s><s class="pc">%<svg class="ps" width="12" height="12" viewBox="0 0 12 12"><use href="#P"/></svg></s></div>
<div class="t n" style="left:382px;top:425px;transform:translate(0.567px,0.377px) scaleX(0.9687)"><s class="g32">7</s><s class="g29">,</s><s class="g24">4</s><s class="g17">&nbsp;</s><s class="pc">%<svg class="ps" width="12" height="12" viewBox="0 0 12 12"><use href="#P"/></svg></s></div>
<div class="t n" style="left:472px;top:425px;transform:translate(0.253px,0.377px) scaleX(0.9691)"><s class="g36">8</s><s class="g29">,</s><s class="g24">4</s><s class="g17">&nbsp;</s><s class="pc">%<svg class="ps" width="12" height="12" viewBox="0 0 12 12"><use href="#P"/></svg></s></div>
<div class="t n" style="left:553px;top:425px;transform:translate(0.378px,0.377px) scaleX(0.9714)"><s class="g24">4</s><s class="g29">,</s><s class="g30">9</s><s class="g17">&nbsp;</s><s class="pc">%<svg class="ps" width="12" height="12" viewBox="0 0 12 12"><use href="#P"/></svg></s></div>
<div class="t n" style="left:651px;top:425px;transform:translate(0.525px,0.377px) scaleX(0.9640)"><s class="g28">3</s><s class="g29">,</s><s class="g0">1</s><s class="g17">&nbsp;</s><s class="pc">%<svg class="ps" width="12" height="12" viewBox="0 0 12 12"><use href="#P"/></svg></s></div>
<div class="t n" style="left:737px;top:425px;transform:translate(0.494px,0.377px) scaleX(0.9749)"><s class="g2">-</s><s class="g1">2</s><s class="g29">,</s><s class="g35">5</s><s class="g17">&nbsp;</s><s class="pc">%<svg class="ps" width="12" height="12" viewBox="0 0 12 12"><use href="#P"/></svg></s></div>
<div class="t w" style="left:112px;top:448px;transform:translate(-0.090px,0.477px) scaleX(0.9818)"><s class="g41">T</s><s class="g20">h</s><s class="g6">a</s><s class="g12">i</s><s class="g11">l</s><s class="g6">a</s><s class="g5">n</s><s class="g44">d</s></div>
<div class="t n" style="left:303px;top:448px;transform:translate(0.694px,0.477px) scaleX(0.9749)"><s class="g2">-</s><s class="g33">0</s><s class="g29">,</s><s class="g35">5</s><s class="g17">&nbsp;</s><s class="pc">%<svg class="ps" width="12" height="12" viewBox="0 0 12 12"><use href="#P"/></svg></s></div>
<div class="t n" style="left:382px;top:448px;transform:translate(0.567px,0.477px) scaleX(0.9687)"><s class="g32">7</s><s class="g29">,</s><s class="g40">6</s><s class="g17">&nbsp;</s><s class="pc">%<svg class="ps" width="12" height="12" viewBox="0 0 12 12"><use href="#P"/></svg></s></div>
<div class="t n" style="left:472px;top:448px;transform:translate(0.235px,0.477px) scaleX(0.9697)"><s class="g1">2</s><s class="g29">,</s><s class="g35">5</s><s class="g17">&nbsp;</s><s class="pc">%<svg class="ps" width="12" height="12" viewBox="0 0 12 12"><use href="#P"/></svg></s></div>
<div class="t n" style="left:553px;top:448px;transform:translate(0.293px,0.477px) scaleX(0.9740)"><s class="g33">0</s><s class="g29">,</s><s class="g35">5</s><s class="g17">&nbsp;</s><s class="pc">%<svg class="ps" width="12" height="12" viewBox="0 0 12 12"><use href="#P"/></svg></s></div>
<div class="t n" style="left:651px;top:448px;transform:translate(0.525px,0.477px) scaleX(0.9640)"><s class="g28">3</s><s class="g29">,</s><s class="g33">0</s><s class="g17">&nbsp;</s><s class="pc">%<svg class="ps" width="12" height="12" viewBox="0 0 12 12"><use href="#P"/></svg></s></div>
<div class="t n" style="left:737px;top:448px;transform:translate(0.494px,0.477px) scaleX(0.9749)"><s class="g2">-</s><s class="g32">7</s><s class="g29">,</s><s class="g0">1</s><s class="g17">&nbsp;</s><s class="pc">%<svg class="ps" width="12" height="12" viewBox="0 0 12 12"><use href="#P"/></svg></s></div>
<div class="t w" style="left:112px;top:471px;transform:translate(-0.091px,0.577px) scaleX(0.9844)"><s class="g41">T</s><s class="g52">ü</s><s class="g22">r</s><s class="g47">k</s><s class="g14">e</s><s class="g12">i</s></div>
<div class="t n" style="left:300px;top:471px;transform:translate(0.669px,0.577px) scaleX(0.9757)"><s class="g40">6</s><s class="g36">8</s><s class="g29">,</s><s class="g33">0</s><s class="g17">&nbsp;</s><s class="pc">%<svg class="ps" width="12" height="12" viewBox="0 0 12 12"><use href="#P"/></svg></s></div>
<div class="t n" style="left:374px;top:471px;transform:translate(0.808px,0.577px) scaleX(0.9747)"><s class="g32">7</s><s class="g30">9</s><s class="g29">,</s><s class="g33">0</s><s class="g17">&nbsp;</s><s class="pc">%<svg class="ps" width="12" height="12" viewBox="0 0 12 12"><use href="#P"/></svg></s></div>
<div class="t n" style="left:464px;top:471px;transform:translate(0.422px,0.577px) scaleX(0.9768)"><s class="g24">4</s><s class="g24">4</s><s class="g29">,</s><s class="g40">6</s><s class="g17">&nbsp;</s><s class="pc">%<svg class="ps" width="12" height="12" viewBox="0 0 12 12"><use href="#P"/></svg></s></div>
<div class="t n" style="left:545px;top:471px;transform:translate(0.966px,0.577px) scaleX(0.9684)"><s class="g0">1</s><s class="g1">2</s><s class="g29">,</s><s class="g35">5</s><s class="g17">&nbsp;</s><s class="pc">%<svg class="ps" width="12" height="12" viewBox="0 0 12 12"><use href="#P"/></svg></s></div>
<div class="t n" style="left:638px;top:471px;transform:translate(0.837px,0.577px) scaleX(0.9792)"><s class="g2">-</s><s class="g1">2</s><s class="g28">3</s><s class="g29">,</s><s class="g24">4</s><s class="g17">&nbsp;</s><s class="pc">%<svg class="ps" width="12" height="12" viewBox="0 0 12 12"><use href="#P"/></svg></s></div>
<div class="t n" style="left:729px;top:471px;transform:translate(0.737px,0.577px) scaleX(0.9792)"><s class="g2">-</s><s class="g40">6</s><s class="g40">6</s><s class="g29">,</s><s class="g35">5</s><s class="g17">&nbsp;</s><s class="pc">%<svg class="ps" width="12" height="12" viewBox="0 0 12 12"><use href="#P"/></svg></s></div>
<div class="t w" style="left:112px;top:494px;transform:translate(0.037px,0.677px) scaleX(0.9625)"><s class="g42">U</s><s class="g51">S</s><s class="g53">A</s></div>
<div class="t n" style="left:308px;top:494px;transform:translate(0.625px,0.677px) scaleX(0.9640)"><s class="g28">3</s><s class="g29">,</s><s class="g35">5</s><s class="g17">&nbsp;</s><s class="pc">%<svg class="ps" width="12" height="12" viewBox="0 0 12 12"><use href="#P"/></svg></s></div>
<div class="t n" style="left:382px;top:494px;transform:translate(0.879px,0.677px) scaleX(0.9593)"><s class="g30">9</s><s class="g29">,</s><s class="g0">1</s><s class="g17">&nbsp;</s><s class="pc">%<svg class="ps" width="12" height="12" viewBox="0 0 12 12"><use href="#P"/></svg></s></div>
<div class="t n" style="left:472px;top:494px;transform:translate(0.383px,0.677px) scaleX(0.9652)"><s class="g35">5</s><s class="g29">,</s><s class="g28">3</s><s class="g17">&nbsp;</s><s class="pc">%<svg class="ps" width="12" height="12" viewBox="0 0 12 12"><use href="#P"/></svg></s></div>
<div class="t n" style="left:553px;top:494px;transform:translate(0.729px,0.677px) scaleX(0.9608)"><s class="g0">1</s><s class="g29">,</s><s class="g1">2</s><s class="g17">&nbsp;</s><s class="pc">%<svg class="ps" width="12" height="12" viewBox="0 0 12 12"><use href="#P"/></svg></s></div>
<div class="t n" style="left:651px;top:494px;transform:translate(0.629px,0.677px) scaleX(0.9608)"><s class="g0">1</s><s class="g29">,</s><s class="g30">9</s><s class="g17">&nbsp;</s><s class="pc">%<svg class="ps" width="12" height="12" viewBox="0 0 12 12"><use href="#P"/></svg></s></div>
<div class="t n" style="left:737px;top:494px;transform:translate(0.494px,0.677px) scaleX(0.9749)"><s class="g2">-</s><s class="g32">7</s><s class="g29">,</s><s class="g36">8</s><s class="g17">&nbsp;</s><s class="pc">%<svg class="ps" width="12" height="12" viewBox="0 0 12 12"><use href="#P"/></svg></s></div>
<div class="t w" style="left:112px;top:534px;transform:translate(0.171px,0.877px) scaleX(0.9930)"><s class="g54">E</s><s class="g3">M</s><s class="g2">-</s><s class="g55">D</s><s class="g26">u</s><s class="g22">r</s><s class="g19">c</s><s class="g20">h</s><s class="g8">s</s><s class="g19">c</s><s class="g20">h</s><s class="g5">n</s><s class="g12">i</s><s class="g7">t</s><s class="g7">t</s><s class="g17">&nbsp;</s><s class="g18">(</s><s class="g4">o</s><s class="g20">h</s><s class="g5">n</s><s class="g14">e</s></div>
<div class="t n" style="left:308px;top:554px;transform:translate(0.625px,0.277px) scaleX(0.9640)"><s class="g28">3</s><s class="g29">,</s><s class="g40">6</s><s class="g17">&nbsp;</s><s class="pc">%<svg class="ps" width="12" height="12" viewBox="0 0 12 12"><use href="#P"/></svg></s></div>
<div class="t n" style="left:382px;top:554px;transform:translate(0.879px,0.277px) scaleX(0.9593)"><s class="g30">9</s><s class="g29">,</s><s class="g28">3</s><s class="g17">&nbsp;</s><s class="pc">%<svg class="ps" width="12" height="12" viewBox="0 0 12 12"><use href="#P"/></svg></s></div>
<div class="t n" style="left:472px;top:554px;transform:translate(0.228px,0.277px) scaleX(0.9699)"><s class="g40">6</s><s class="g29">,</s><s class="g36">8</s><s class="g17">&nbsp;</s><s class="pc">%<svg class="ps" width="12" height="12" viewBox="0 0 12 12"><use href="#P"/></svg></s></div>
<div class="t n" style="left:553px;top:554px;transform:translate(0.378px,0.277px) scaleX(0.9714)"><s class="g24">4</s><s class="g29">,</s><s class="g32">7</s><s class="g17">&nbsp;</s><s class="pc">%<svg class="ps" width="12" height="12" viewBox="0 0 12 12"><use href="#P"/></svg></s></div>
<div class="t n" style="left:651px;top:554px;transform:translate(0.525px,0.277px) scaleX(0.9640)"><s class="g28">3</s><s class="g29">,</s><s class="g1">2</s><s class="g17">&nbsp;</s><s class="pc">%<svg class="ps" width="12" height="12" viewBox="0 0 12 12"><use href="#P"/></svg></s></div>
<div class="t n" style="left:737px;top:554px;transform:translate(0.494px,0.277px) scaleX(0.9749)"><s class="g2">-</s><s class="g24">4</s><s class="g29">,</s><s class="g40">6</s><s class="g17">&nbsp;</s><s class="pc">%<svg class="ps" width="12" height="12" viewBox="0 0 12 12"><use href="#P"/></svg></s></div>
<div class="t w" style="left:112px;top:554px;transform:translate(-0.044px,0.277px) scaleX(0.9830)"><s class="g44">d</s><s class="g12">i</s><s class="g14">e</s><s class="g17">&nbsp;</s><s class="g41">T</s><s class="g52">ü</s><s class="g22">r</s><s class="g47">k</s><s class="g14">e</s><s class="g12">i</s><s class="g21">)</s></div>
<div class="foot">Quelle: Bloomberg. Stand: 31. März 2024.</div>
<div class="cur"></div>
<div class="sq"></div>
</body></html>
